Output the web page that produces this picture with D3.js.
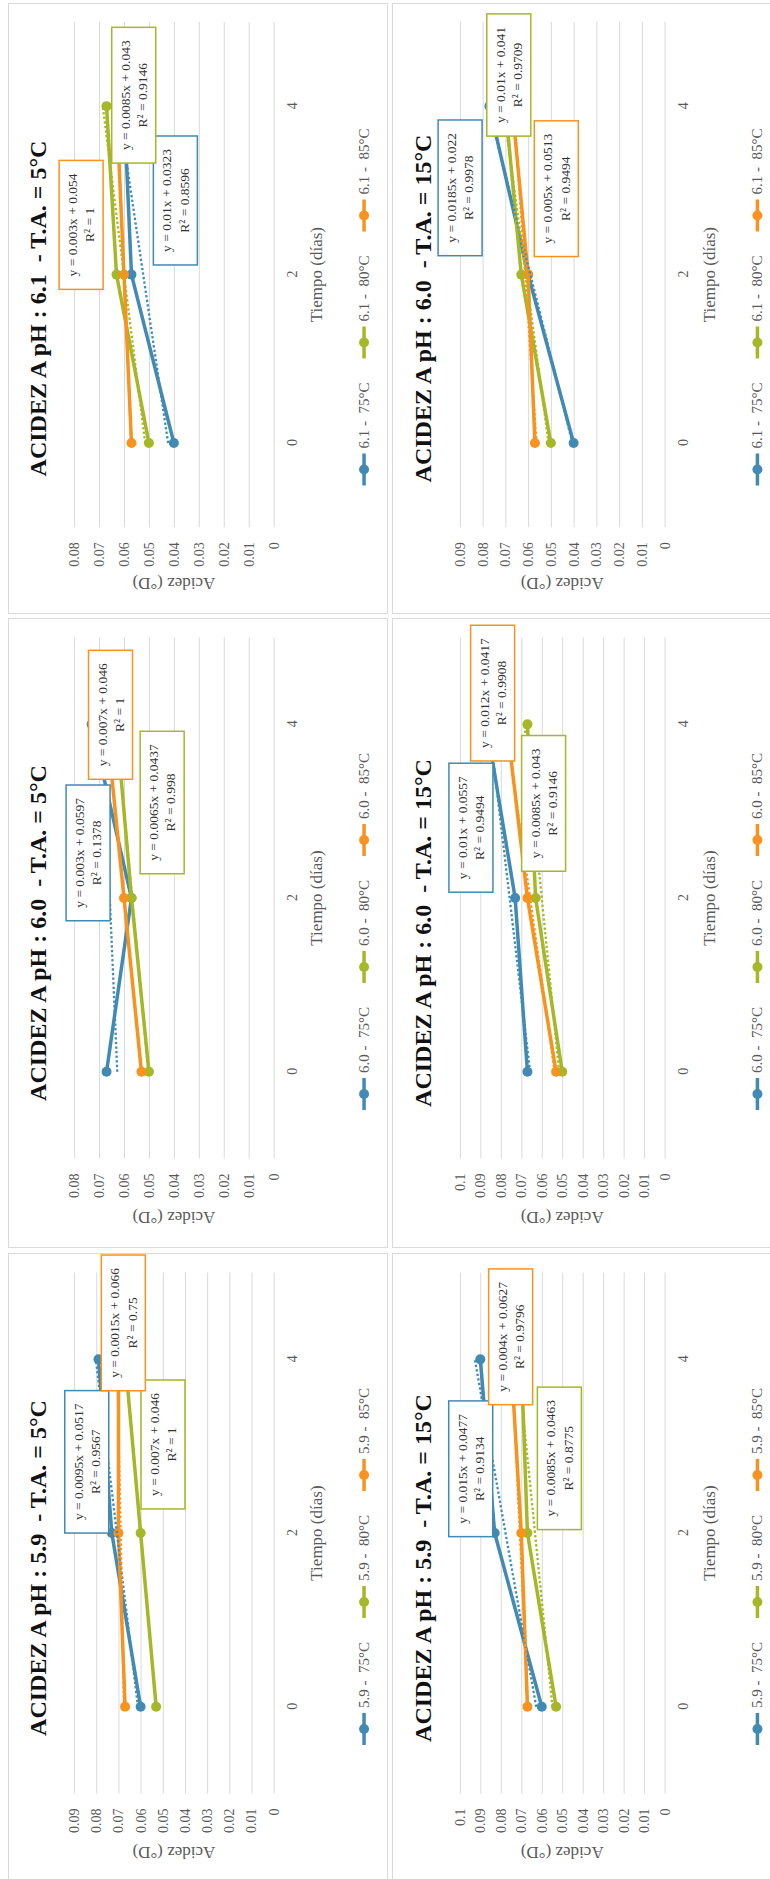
<!DOCTYPE html>
<html>
<head>
<meta charset="utf-8">
<script src="https://cdn.jsdelivr.net/npm/d3@7"></script>
<style>
  html, body { margin: 0; padding: 0; background: #ffffff; }
  svg { display: block; }
  text { font-family: "Liberation Serif", "Times New Roman", Times, serif; white-space: pre; }
</style>
</head>
<body>
<svg id="fig" width="770" height="1879"></svg>
<script>
// ---- data -------------------------------------------------------------
const days = [0, 2, 4];
const titlePh = ["6.1", "6.0", "6.0", "6.0", "5.9", "5.9"];
const seriesPh = ["6.1", "6.1", "6.0", "6.0", "5.9", "5.9"];
const ambientTemps = ["5°C", "15°C", "5°C", "15°C", "5°C", "15°C"];
const processTemps = ["75°C", "80°C", "85°C"];
const axisMax = [0.08, 0.09, 0.08, 0.1, 0.09, 0.1];

// acidity (°D) on days 0, 2, 4 for each chart
const acidez75 = [
  [0.040, 0.057, 0.060],
  [0.040, 0.060, 0.077],
  [0.067, 0.057, 0.073],
  [0.067, 0.073, 0.087],
  [0.060, 0.073, 0.079],
  [0.060, 0.083, 0.090]
];
const acidez80 = [
  [0.050, 0.063, 0.067],
  [0.050, 0.063, 0.070],
  [0.050, 0.057, 0.063],
  [0.050, 0.063, 0.067],
  [0.053, 0.060, 0.067],
  [0.053, 0.067, 0.070]
];
const acidez85 = [
  [0.057, 0.060, 0.063],
  [0.057, 0.060, 0.067],
  [0.053, 0.060, 0.067],
  [0.053, 0.067, 0.077],
  [0.067, 0.070, 0.070],
  [0.067, 0.070, 0.075]
];

// linear trendlines (x = point number 1..3)
const slope75 = ["0.01", "0.0185", "0.003", "0.01", "0.0095", "0.015"];
const intercept75 = ["0.0323", "0.022", "0.0597", "0.0557", "0.0517", "0.0477"];
const rsq75 = ["0.8596", "0.9978", "0.1378", "0.9494", "0.9567", "0.9134"];
const slope80 = ["0.0085", "0.01", "0.0065", "0.0085", "0.007", "0.0085"];
const intercept80 = ["0.043", "0.041", "0.0437", "0.043", "0.046", "0.0463"];
const rsq80 = ["0.9146", "0.9709", "0.998", "0.9146", "1", "0.8775"];
const slope85 = ["0.003", "0.005", "0.007", "0.012", "0.0015", "0.004"];
const intercept85 = ["0.054", "0.0513", "0.046", "0.0417", "0.066", "0.0627"];
const rsq85 = ["1", "0.9494", "1", "0.9908", "0.75", "0.9796"];

// ---- layout -----------------------------------------------------------
// page frames of the six charts; each chart is drawn turned a quarter turn
const frames = [
  { x: 8,   y: 3,    w: 380, h: 611 },
  { x: 392, y: 3,    w: 390, h: 611 },
  { x: 8,   y: 618,  w: 380, h: 630 },
  { x: 392, y: 618,  w: 390, h: 630 },
  { x: 8,   y: 1253, w: 380, h: 630 },
  { x: 392, y: 1253, w: 390, h: 630 }
];
// centre of each equation box, given in (day, acidity) units
const boxAt = [
  [[2.88, 0.0394], [4.13, 0.0561], [2.59, 0.0772]],
  [[3.03, 0.0899], [4.37, 0.0685], [3.02, 0.0476]],
  [[2.52, 0.0744], [3.10, 0.0447], [4.11, 0.0654]],
  [[2.81, 0.0946], [3.09, 0.0591], [4.36, 0.0840]],
  [[2.82, 0.0843], [3.02, 0.0499], [4.42, 0.0678]],
  [[2.74, 0.0947], [2.86, 0.0514], [4.26, 0.0752]]
];
const colors = ["#418AB3", "#A6B727", "#F7931E"];
const gridColor = "#D9D9D9";
const labelColor = "#595959";

const svg = d3.select("#fig");
const defs = svg.append("defs");

frames.forEach((f, i) => {
  const W = f.h;   // chart width (time direction)
  const H = f.w;   // chart height (acidity direction)

  const outer = svg.append("g")
    .attr("transform", `translate(${f.x},${f.y + f.h}) rotate(-90)`);

  defs.append("clipPath").attr("id", "clip" + i)
    .append("rect").attr("x", 0).attr("y", 0).attr("width", W).attr("height", H);

  const g = outer.append("g").attr("clip-path", `url(#clip${i})`);

  g.append("rect").attr("x", 0).attr("y", 0).attr("width", W).attr("height", H)
    .attr("fill", "#fff");

  const u0 = 0.142 * W, u1 = 0.969 * W;
  const x = d3.scalePoint().domain(days).range([u0, u1]).padding(0.5);
  const xc = d3.scaleLinear().domain([0, 4]).range([x(0), x(4)]);
  const y = d3.scaleLinear().domain([0, axisMax[i]]).range([0.699 * H, 0.174 * H]);

  // acidity gridlines and labels
  const ticks = d3.range(0, Math.round(axisMax[i] * 100) + 1).map(k => k / 100);
  const yAxis = g.append("g").attr("transform", `translate(${u0},0)`)
    .call(d3.axisLeft(y).tickValues(ticks).tickSize(-(u1 - u0)).tickPadding(15)
      .tickFormat(d => d === 0 ? "0" : String(+d.toFixed(2))));
  yAxis.attr("font-family", null);
  yAxis.select(".domain").remove();
  yAxis.selectAll(".tick line").attr("stroke", gridColor).attr("stroke-width", 1);
  yAxis.selectAll(".tick text").attr("fill", labelColor).style("font-size", "14px");

  // time labels
  const xAxis = g.append("g").attr("transform", `translate(0,${y(0)})`)
    .call(d3.axisBottom(x).tickSize(0).tickPadding(0.048 * H - 5).tickFormat(d => String(d)));
  xAxis.attr("font-family", null);
  xAxis.select(".domain").remove();
  xAxis.selectAll(".tick text").attr("fill", labelColor).style("font-size", "14px");

  // series
  const series = [acidez75[i], acidez80[i], acidez85[i]];
  const line = d3.line().x(d => x(d[0])).y(d => y(d[1]));
  series.forEach((vals, s) => {
    const pts = days.map((d, k) => [d, vals[k]]);
    g.append("path").attr("d", line(pts)).attr("fill", "none")
      .attr("stroke", colors[s]).attr("stroke-width", 3.5)
      .attr("stroke-linejoin", "round").attr("stroke-linecap", "round");
    g.selectAll(null).data(pts).enter().append("circle")
      .attr("cx", d => x(d[0])).attr("cy", d => y(d[1])).attr("r", 5)
      .attr("fill", colors[s]);
  });

  // trendlines
  const slopes = [slope75[i], slope80[i], slope85[i]];
  const inters = [intercept75[i], intercept80[i], intercept85[i]];
  const rsqs = [rsq75[i], rsq80[i], rsq85[i]];
  slopes.forEach((m, s) => {
    const b = +inters[s];
    const pts = [0, 4].map(d => [d, +m * (d / 2 + 1) + b]);
    g.append("path").attr("d", line(pts)).attr("fill", "none")
      .attr("stroke", colors[s]).attr("stroke-width", 2.3)
      .attr("stroke-dasharray", "2.3 2.3");
  });

  // equation boxes
  slopes.forEach((m, s) => {
    const [bd, bv] = boxAt[i][s];
    const box = g.append("g").attr("transform", `translate(${xc(bd)},${y(bv)})`);
    const rect = box.append("rect");
    const t1 = box.append("text").attr("text-anchor", "middle").attr("dominant-baseline", "central")
      .attr("y", -8.5).attr("fill", "#333").style("font-size", "13.5px")
      .text(`y = ${m}x + ${inters[s]}`);
    const t2 = box.append("text").attr("text-anchor", "middle").attr("dominant-baseline", "central")
      .attr("y", 8.8).attr("fill", "#333").style("font-size", "13.5px")
      .text(`R² = ${rsqs[s]}`);
    const tw = Math.max(t1.node().getComputedTextLength(), t2.node().getComputedTextLength());
    const bw = tw + 26, bh = 44;
    rect.attr("x", -bw / 2).attr("y", -bh / 2).attr("width", bw).attr("height", bh)
      .attr("fill", "#fff").attr("stroke", colors[s]).attr("stroke-width", 1.5);
  });

  // titles
  g.append("text").attr("x", W / 2).attr("y", 0.079 * H)
    .attr("text-anchor", "middle").attr("dominant-baseline", "central")
    .attr("fill", "#111").style("font-size", "24px").style("font-weight", "bold")
    .text(`ACIDEZ A pH : ${titlePh[i]}  - T.A. = ${ambientTemps[i]}`);

  g.append("text").attr("x", (u0 + u1) / 2).attr("y", 0.813 * H)
    .attr("text-anchor", "middle").attr("dominant-baseline", "central")
    .attr("fill", labelColor).style("font-size", "17px")
    .text("Tiempo (días)");

  g.append("text")
    .attr("transform", `translate(31,${(y(0) + y(axisMax[i])) / 2}) rotate(-90)`)
    .attr("text-anchor", "middle").attr("dominant-baseline", "central")
    .attr("fill", labelColor).style("font-size", "17px")
    .text("Acidez (°D)");

  // legend
  const legendOffsets = [-161, -34, 93];
  processTemps.forEach((t, s) => {
    const cx = W / 2 + legendOffsets[s], cy = 0.937 * H;
    const item = g.append("g");
    item.append("line").attr("x1", cx - 16).attr("x2", cx + 16).attr("y1", cy).attr("y2", cy)
      .attr("stroke", colors[s]).attr("stroke-width", 3.5);
    item.append("circle").attr("cx", cx).attr("cy", cy).attr("r", 5).attr("fill", colors[s]);
    item.append("text").attr("x", cx + 21).attr("y", cy).attr("dominant-baseline", "central")
      .attr("fill", labelColor).style("font-size", "15px")
      .text(`${seriesPh[i]} -  ${t}`);
  });

  // frame
  g.append("rect").attr("x", 0.5).attr("y", 0.5).attr("width", W - 1).attr("height", H - 1)
    .attr("fill", "none").attr("stroke", gridColor).attr("stroke-width", 1);
});
</script>
</body>
</html>
